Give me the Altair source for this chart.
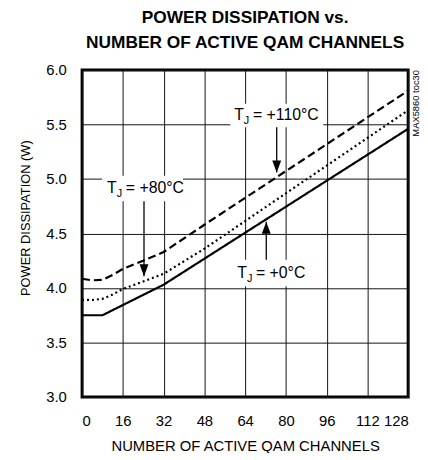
import altair as alt
import pandas as pd

# ---- data ----
x_ticks = [0, 16, 32, 48, 64, 80, 96, 112, 128]
y_ticks = [3.0, 3.5, 4.0, 4.5, 5.0, 5.5, 6.0]

ch_0c = [0, 8, 32, 128]
pw_0c = [3.75, 3.75, 4.03, 5.46]
ch_80c = [0, 4, 8, 12, 16, 24, 32, 48, 128]
pw_80c = [3.89, 3.89, 3.90, 3.94, 3.99, 4.06, 4.13, 4.36, 5.63]
ch_110c = [0, 4, 8, 12, 16, 24, 32, 48, 128]
pw_110c = [4.085, 4.07, 4.075, 4.12, 4.175, 4.25, 4.33, 4.58, 5.81]

series_names = ["+0°C", "+80°C", "+110°C"]

label_text = ["= +110°C", "= +80°C", "= +0°C"]
label_x = [59.7, 9.8, 60.9]
label_y = [5.544, 4.873, 4.094]
box_x = [58.2, 7.8, 60.1]
box_x2 = [94.7, 39.6, 88.1]
box_y = [5.474, 4.795, 4.015]
box_y2 = [5.69, 5.03, 4.26]
arrow_x = [76.4, 24.3, 72.3]
arrow_from = [5.474, 4.795, 4.26]
arrow_to = [5.06, 4.108, 4.607]
arrow_dir = ["down", "down", "up"]

note_text = ["MAX5860 toc30"]
note_x = [128]
note_y = [6.0]

FONT = "Liberation Sans, Arial, sans-serif"

# ---- tables ----
rows = []
for name, xs, ys in [(series_names[0], ch_0c, pw_0c),
                     (series_names[1], ch_80c, pw_80c),
                     (series_names[2], ch_110c, pw_110c)]:
    for a, b in zip(xs, ys):
        rows.append({"series": name, "ch": a, "pw": b})
lines_df = pd.DataFrame(rows)

ann_df = pd.DataFrame({
    "txt": label_text, "lx": label_x, "ly": label_y,
    "bx": box_x, "bx2": box_x2, "by": box_y, "by2": box_y2,
    "ax": arrow_x, "a1": arrow_from, "a2": arrow_to, "dir": arrow_dir,
})
note_df = pd.DataFrame({"txt": note_text, "nx": note_x, "ny": note_y})

xscale = alt.Scale(domain=[0, 128], nice=False, zero=False)
yscale = alt.Scale(domain=[3.0, 6.0], nice=False, zero=False)

xaxis = alt.Axis(values=x_ticks, title="NUMBER OF ACTIVE QAM CHANNELS",
                 format="d", titleY=54, titleBaseline="alphabetic")
yaxis = alt.Axis(values=y_ticks, title="POWER DISSIPATION (W)", format=".1f",
                 titleX=-53, titleY=149.5, titleBaseline="alphabetic",
                 titleAlign="center", titleAngle=270, titleFontSize=13)

X = lambda f: alt.X(f, type="quantitative", scale=xscale, axis=xaxis)
Y = lambda f: alt.Y(f, type="quantitative", scale=yscale, axis=yaxis)

boxes = alt.Chart(ann_df).mark_rect(fill="white", stroke=None).encode(
    x=X("bx"), x2="bx2", y=Y("by"), y2="by2")

lines = alt.Chart(lines_df).mark_line(color="black", strokeWidth=2.2).encode(
    x=X("ch"), y=Y("pw"),
    strokeDash=alt.StrokeDash("series:N",
                              scale=alt.Scale(domain=series_names,
                                              range=[[1, 0], [2, 3], [8, 4]]),
                              legend=None),
    order="ch:Q")

arrows = alt.Chart(ann_df).mark_rule(color="black", strokeWidth=1.3).encode(
    x=X("ax"), y=Y("a1"), y2="a2")

head_down = "M -1.5 -4 L 1.5 -4 L 0 0 Z"
head_up = "M -1.5 4 L 1.5 4 L 0 0 Z"
heads = alt.Chart(ann_df).mark_point(filled=True, color="black", opacity=1,
                                     size=36, strokeWidth=0).encode(
    x=X("ax"), y=Y("a2"),
    shape=alt.Shape("dir:N", scale=alt.Scale(domain=["down", "up"],
                                             range=[head_down, head_up]),
                    legend=None))

t_main = alt.Chart(ann_df).mark_text(align="left", baseline="alphabetic",
                                     font=FONT, fontSize=16, color="black").encode(
    x=X("lx"), y=Y("ly"), text=alt.value("T"))
t_sub = alt.Chart(ann_df).mark_text(align="left", baseline="alphabetic",
                                    font=FONT, fontSize=11, color="black",
                                    dx=9.8, dy=4).encode(
    x=X("lx"), y=Y("ly"), text=alt.value("J"))
t_rest = alt.Chart(ann_df).mark_text(align="left", baseline="alphabetic",
                                     font=FONT, fontSize=16, color="black",
                                     dx=19).encode(
    x=X("lx"), y=Y("ly"), text="txt:N")

note = alt.Chart(note_df).mark_text(align="right", baseline="top", angle=270,
                                    font=FONT, fontSize=9.5, color="black",
                                    dy=3).encode(
    x=X("nx"), y=Y("ny"), text="txt:N")

chart = alt.layer(boxes, lines, arrows, heads, t_main, t_sub, t_rest, note).properties(
    width=330, height=331,
    autosize=alt.AutoSizeParams(type="none"),
    padding={"left": 75, "top": 60, "right": 12, "bottom": 54},
    title=alt.TitleParams(
        text=["POWER DISSIPATION vs.", "NUMBER OF ACTIVE QAM CHANNELS"],
        font=FONT, fontSize=17.5, fontWeight="bold", color="black",
        anchor="middle", lineHeight=25, offset=21, baseline="bottom", dy=27),
).configure_view(
    stroke="black", strokeWidth=3
).configure_axis(
    grid=True, gridColor="#111", gridWidth=1, gridOpacity=1,
    domain=False, ticks=False, tickSize=0,
    labelFont=FONT, labelFontSize=15, labelColor="black",
    titleFont=FONT, titleFontSize=15, titleFontWeight="normal", titleColor="black",
).configure_axisX(labelPadding=17).configure_axisY(labelPadding=16)

chart.save("out.html", embed_options={"renderer": "svg", "actions": False})
